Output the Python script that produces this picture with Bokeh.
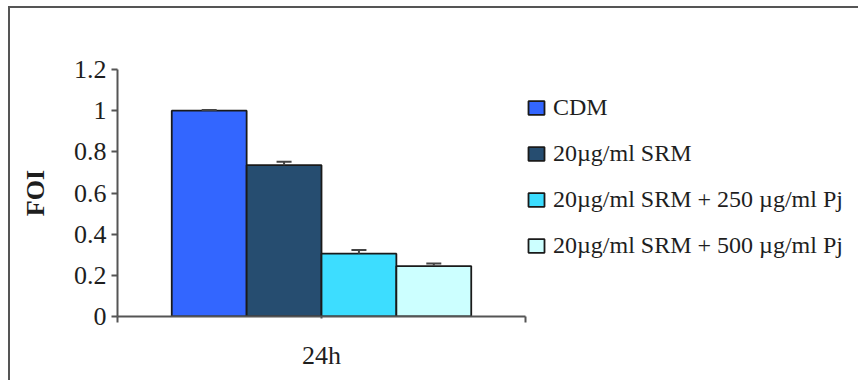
from bokeh.plotting import figure
from bokeh.models import (Range1d, FixedTicker, Legend, LegendItem, Whisker,
                          ColumnDataSource, TeeHead, NumeralTickFormatter,
                          CustomJSTickFormatter)
from bokeh.embed import file_html
from bokeh.resources import INLINE

# ---- data ----
categories = ["24h"]
series = ["CDM", "20µg/ml SRM", "20µg/ml SRM + 250 µg/ml Pj", "20µg/ml SRM + 500 µg/ml Pj"]
values = [1.0, 0.735, 0.305, 0.245]
errors = [0.003, 0.017, 0.018, 0.013]
colors = ["#3366FF", "#264D70", "#3DDDFF", "#CCFFFF"]
y_ticks = [0, 0.2, 0.4, 0.6, 0.8, 1.0, 1.2]
y_label = "FOI"

FONT = "'Liberation Serif'"
TXT = "#1e1e1e"
AXC = "#555555"

AXIS_PX = 408      # drawn length of the category axis
FRAME_W = 741      # plot frame extends to the right so the legend fits inside
n = len(categories)

p = figure(frame_width=FRAME_W, frame_height=247, output_backend="svg", toolbar_location=None,
           x_range=Range1d(0, n * FRAME_W / AXIS_PX), y_range=Range1d(0, 1.2),
           min_border_left=107, min_border_right=0, min_border_top=61,
           min_border_bottom=64)
p.outline_line_color = None
p.grid.visible = False
p.background_fill_color = "white"
p.border_fill_color = "white"
p.styles = {"border-left": "2px solid #555555", "border-top": "2px solid #555555",
            "margin-left": "8px", "margin-top": "6px", "vertical-align": "top"}

group = 0.734
bw = group / len(series)
renderers = []
xs = []
for j, name in enumerate(series):
    x = [i + 0.5 + (j - (len(series) - 1) / 2) * bw for i in range(n)]
    xs.append(x[0])
    src = ColumnDataSource(dict(x=x, top=[values[j]]))
    r = p.vbar(x="x", top="top", width=bw, bottom=0, source=src,
               fill_color=colors[j], line_color="#1a1a1a", line_width=1.8)
    renderers.append(r)

wsrc = ColumnDataSource(dict(x=xs, lower=values, upper=[v + e for v, e in zip(values, errors)]))
w = Whisker(base="x", lower="lower", upper="upper", source=wsrc, dimension="height",
            line_color="#444444", line_width=2, level="overlay",
            upper_head=TeeHead(size=15, line_color="#444444", line_width=2),
            lower_head=None)
p.add_layout(w)

# y axis
ya = p.yaxis[0]
ya.ticker = FixedTicker(ticks=y_ticks, minor_ticks=[])
ya.formatter = NumeralTickFormatter(format="0.[0]")
ya.axis_label = y_label
ya.axis_label_text_font = FONT
ya.axis_label_text_font_style = "bold"
ya.axis_label_text_font_size = "26px"
ya.axis_label_text_color = TXT
ya.axis_label_standoff = 21
ya.major_label_text_font = FONT
ya.major_label_text_font_size = "26px"
ya.major_label_text_color = TXT
ya.major_label_standoff = 5
ya.axis_line_color = AXC
ya.axis_line_width = 2
ya.major_tick_line_color = AXC
ya.major_tick_line_width = 2
ya.major_tick_out = 6
ya.major_tick_in = 0

# x axis
xa = p.xaxis[0]
xa.bounds = (0, n)
xa.ticker = FixedTicker(ticks=[i + 0.5 for i in range(n)],
                        minor_ticks=list(range(n + 1)))
xa.formatter = CustomJSTickFormatter(args=dict(cats=categories),
                                     code="return cats[Math.floor(tick)]")
xa.major_label_text_font = FONT
xa.major_label_text_font_size = "26px"
xa.major_label_text_color = TXT
xa.major_label_standoff = 18
xa.axis_line_color = AXC
xa.axis_line_width = 2
xa.major_tick_line_color = AXC
xa.major_tick_line_width = 2
xa.major_tick_out = 2
xa.major_tick_in = 0
xa.minor_tick_line_color = AXC
xa.minor_tick_line_width = 2
xa.minor_tick_out = 6
xa.minor_tick_in = 0

legend = Legend(items=[LegendItem(label=series[j], renderers=[renderers[j]]) for j in range(len(series))],
                location=(AXIS_PX + 1, 57), padding=0, margin=0, spacing=19,
                glyph_width=20, glyph_height=17, label_standoff=7, label_height=20,
                label_text_font=FONT, label_text_font_size="24px", label_text_color=TXT,
                background_fill_alpha=0, border_line_color=None)
p.add_layout(legend)

open("out.html", "w").write(file_html(p, INLINE))
